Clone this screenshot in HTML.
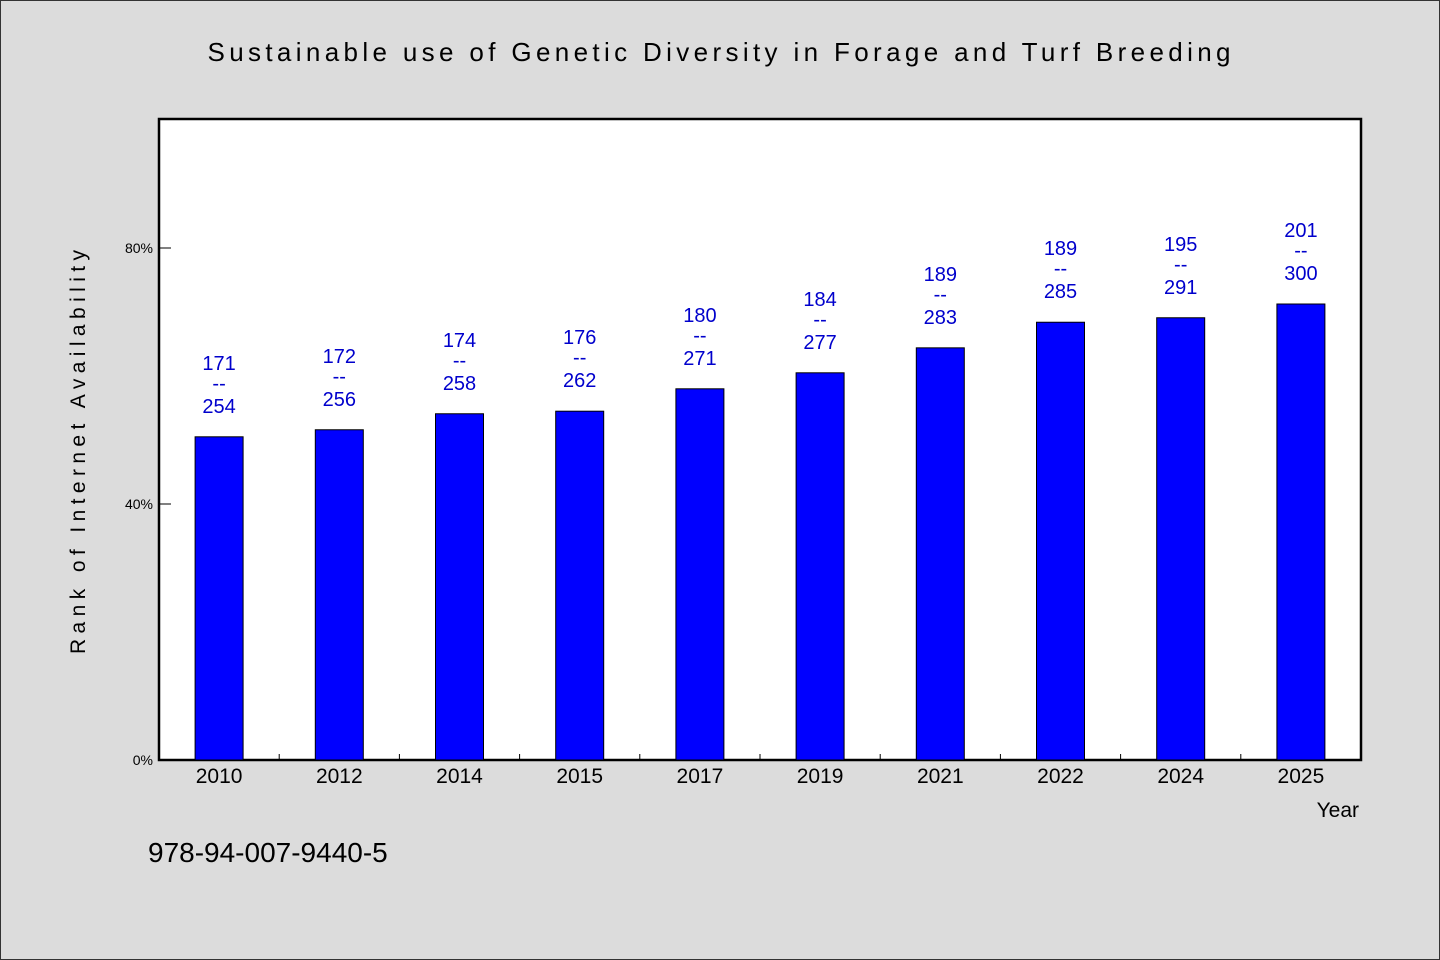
<!DOCTYPE html>
<html><head><meta charset="utf-8"><style>
html,body{margin:0;padding:0;background:#dcdcdc;}
svg{display:block;font-family:"WenQuanYi Zen Hei","Liberation Sans",sans-serif;}
</style></head><body>
<svg id="chart" width="1440" height="960" viewBox="0 0 1440 960" xmlns="http://www.w3.org/2000/svg">
<rect x="0.5" y="0.5" width="1439" height="959" fill="#dcdcdc" stroke="#333"/>
<text x="719" y="61" font-size="26" text-anchor="middle" textLength="1023" lengthAdjust="spacing">Sustainable use of Genetic Diversity in Forage and Turf Breeding</text>
<rect x="159" y="119" width="1202" height="641" fill="#fff" stroke="#000" stroke-width="2.5"/>
<g id="bars"></g>
<g id="yticks"></g>
<g id="xticks"></g>
<text transform="translate(85,452) rotate(-90)" font-size="21" text-anchor="middle" textLength="404" lengthAdjust="spacing">Rank of Internet Availability</text>
<text x="1359" y="817" font-size="21" text-anchor="end">Year</text>
<text x="148" y="862" font-size="28">978-94-007-9440-5</text>
</svg>
<script>
const categories=["2010","2012","2014","2015","2017","2019","2021","2022","2024","2025"];
const values=[50.5,51.6,54.1,54.5,58.0,60.5,64.4,68.4,69.1,71.25];
const topLabels=["171","172","174","176","180","184","189","189","195","201"];
const bottomLabels=["254","256","258","262","271","277","283","285","291","300"];
const yTicks=[0,40,80];
const NS="http://www.w3.org/2000/svg";
const x0=159,slot=120.2,y0=760,yMax=100,ph=640;
function xs(i){return x0+slot*i+slot/2;}
function ys(v){return y0-v/yMax*ph;}
function mk(tag,attrs,parent,txt){const e=document.createElementNS(NS,tag);for(const k in attrs)e.setAttribute(k,attrs[k]);if(txt!==undefined)e.textContent=txt;parent.appendChild(e);return e;}
const gb=document.getElementById('bars'),gy=document.getElementById('yticks'),gx=document.getElementById('xticks');
categories.forEach((c,i)=>{
  const top=ys(values[i]);
  const r=mk('rect',{x:xs(i)-24,y:top,width:48,height:y0-top,fill:'#0000ff',stroke:'#000','stroke-width':1},gb);
  
  
  const t1=mk('text',{x:xs(i),y:top-67,'font-size':20,fill:'#0000cc','text-anchor':'middle'},gb,topLabels[i]);
  
  
  const t2=mk('text',{x:xs(i),y:top-47,'font-size':20,fill:'#0000cc','text-anchor':'middle'},gb,"--");
  
  
  const t3=mk('text',{x:xs(i),y:top-24,'font-size':20,fill:'#0000cc','text-anchor':'middle'},gb,bottomLabels[i]);
  
  
  const xl=mk('text',{x:xs(i),y:783,'font-size':21,'text-anchor':'middle'},gx,c);
  
  
  if(i>0){const tk=mk('line',{x1:x0+slot*i,x2:x0+slot*i,y1:y0,y2:y0-6,stroke:'#000','stroke-width':1},gx);
  
  }
});
yTicks.forEach(v=>{
  const y=ys(v);
  if(v>0){const l=mk('line',{x1:x0,x2:x0+12,y1:y,y2:y,stroke:'#000','stroke-width':1},gy);
  
  }
  const t=mk('text',{x:153,y:y+5,'font-size':14,'text-anchor':'end'},gy,v+'%');
  
  
});
</script>
</body></html>
